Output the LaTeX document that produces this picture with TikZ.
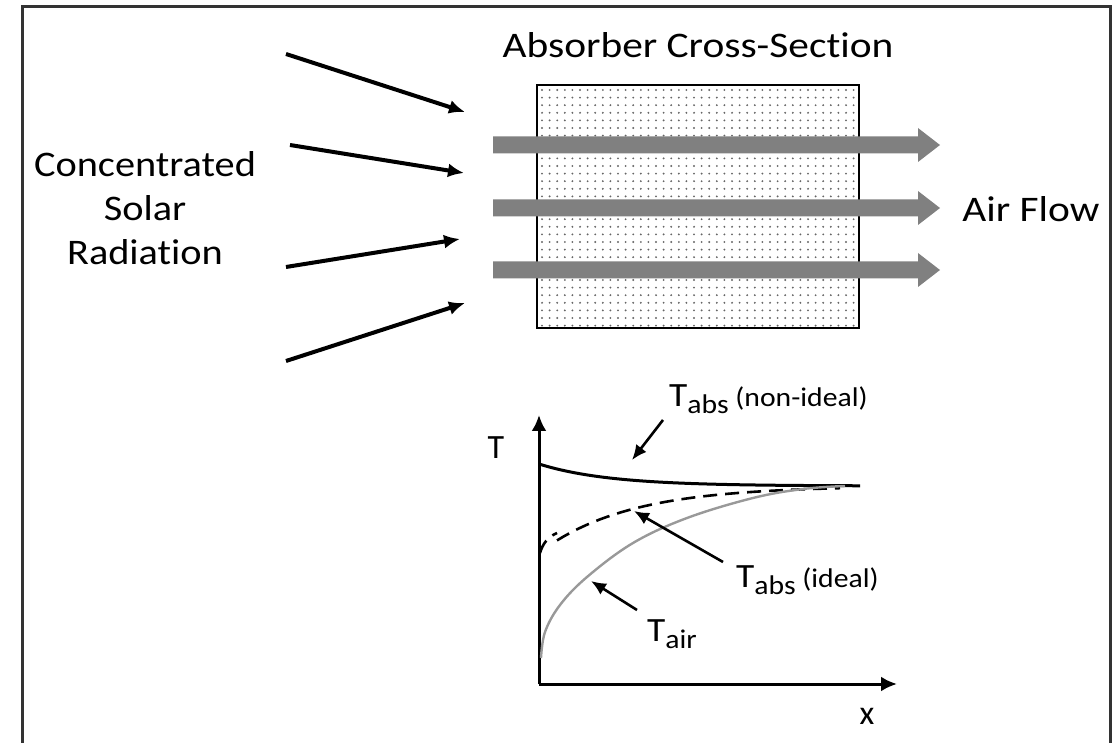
\documentclass[tikz,border=0pt]{standalone}
\usepackage{fontspec}
\setmainfont[Ligatures=NoCommon]{Carlito}
\usetikzlibrary{arrows.meta}
\newcommand\Wd[2][1.15]{\scalebox{#1}[1]{#2}}
\newcommand\Tlbl[2]{\scalebox{1.1}[1]{{\fontsize{34}{36}\selectfont T}\raisebox{-0.25em}{#1}#2}}
\begin{document}
\begin{tikzpicture}[x=1pt,y=-1pt,
  big/.style={font=\fontsize{36}{44}\selectfont, inner sep=0},
  small/.style={font=\fontsize{27}{30}\selectfont, inner sep=0},
  ray/.style={line width=4pt, -{Latex[length=16pt,width=14pt]}},
  axis/.style={line width=3pt, -{Latex[length=16pt,width=15pt]}},
  pointer/.style={line width=2.6pt, -{Latex[length=15pt,width=13pt]}},
  flow/.style={fill=black!50},
  frame/.style={line width=3pt, draw=black!80}]
\useasboundingbox (0,0) rectangle (1112,743);
% outer frame
\draw[frame] (22,750) -- (22,7) -- (1110,7) -- (1110,750);
% absorber
\foreach \i in {0,...,41}{
  \foreach \j in {0,...,31}{
    \fill[black!60] (542+\i*7.6, 90+\j*7.6) circle (1.05);
  }
}
\node[draw, line width=2.4pt, minimum width=322, minimum height=243, inner sep=0] (box) at (698,206.5) {};
\node[big] (title) at (698,45) {\Wd{Absorber Cross-Section}};
% air flow arrows
\foreach \y in {145,208,270}{
  \fill[flow] (493,\y-8.5) -- (918,\y-8.5) -- (918,\y-17) -- (940,\y) -- (918,\y+17) -- (918,\y+8.5) -- (493,\y+8.5) -- cycle;
}
\node[big] (air) at (1031,209) {\Wd{Air Flow}};
% radiation
\node[big] (rad) at (145,212) {\Wd[1.12]{\begin{tabular}{@{}c@{}}Concentrated\\Solar\\Radiation\end{tabular}}};
\coordinate (r1a) at (286,54);  \coordinate (r1b) at (465,112);
\coordinate (r2a) at (290,145); \coordinate (r2b) at (464,173);
\coordinate (r3a) at (286,267); \coordinate (r3b) at (460,239);
\coordinate (r4a) at (286,361); \coordinate (r4b) at (465,303);
\draw[ray] (r1a) -- (r1b);
\draw[ray] (r2a) -- (r2b);
\draw[ray] (r3a) -- (r3b);
\draw[ray] (r4a) -- (r4b);
% graph
\coordinate (O) at (539,684);
\coordinate (ytip) at (539,415);
\coordinate (xtip) at (897,684);
\draw[axis] (O) -- (ytip);
\draw[axis] (O) -- (xtip);
\node[font=\fontsize{34}{36}\selectfont, inner sep=0] (Tax) at (496,448) {T};
\node[font=\fontsize{34}{36}\selectfont, inner sep=0] (xax) at (867,716) {x};
% curves
\draw[line width=3pt, domain=539:860, samples=60] plot (\x, {486-22*exp(-(\x-539)/70)});
\draw[line width=2.6pt, dash pattern=on 14pt off 8pt] (540,553) .. controls (543,543) and (548,537) .. (557,533)
   plot[domain=557:840, samples=40] (\x, {486+66*exp(-(\x-540)/88)});
\draw[line width=2.4pt, black!40] plot[smooth, tension=0.6] coordinates {(541,658) (545,632) (560,605) (587,577) (633,543) (687,518) (753,498) (803,489) (845,486)};
% labels and pointers
\node[small, anchor=west] (lnon) at (669,399) {\Tlbl{abs}{ (non-ideal)}};
\node[small, anchor=west] (lid) at (736,580) {\Tlbl{abs}{ (ideal)}};
\node[small, anchor=west] (lair) at (647,634) {\Tlbl{air}{}};
\coordinate (p1a) at (663,420); \coordinate (p1b) at (632,460);
\coordinate (p2a) at (723,562); \coordinate (p2b) at (634,511);
\coordinate (p3a) at (637,610); \coordinate (p3b) at (591,581);
\draw[pointer] (p1a) -- (p1b);
\draw[pointer] (p2a) -- (p2b);
\draw[pointer] (p3a) -- (p3b);
\end{tikzpicture}
\end{document}
